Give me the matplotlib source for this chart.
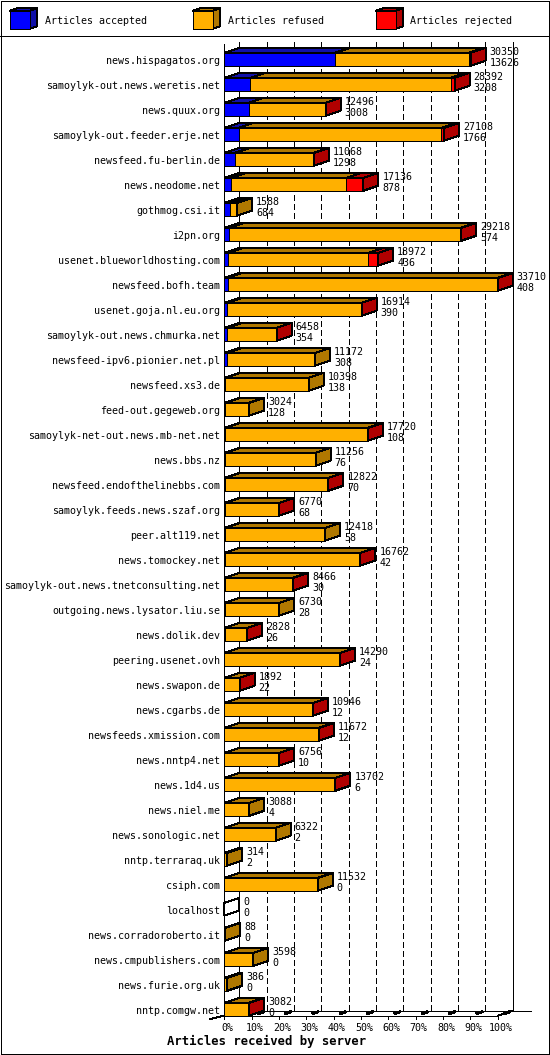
import matplotlib
matplotlib.use("Agg")
import matplotlib.pyplot as plt
from matplotlib.patches import Polygon, Rectangle

plt.rcParams['font.family'] = ['DejaVu Sans Mono']
plt.rcParams['lines.scale_dashes'] = False

# data
servers = [
    "news.hispagatos.org", "samoylyk-out.news.weretis.net", "news.quux.org",
    "samoylyk-out.feeder.erje.net", "newsfeed.fu-berlin.de", "news.neodome.net",
    "gothmog.csi.it", "i2pn.org", "usenet.blueworldhosting.com", "newsfeed.bofh.team",
    "usenet.goja.nl.eu.org", "samoylyk-out.news.chmurka.net", "newsfeed-ipv6.pionier.net.pl",
    "newsfeed.xs3.de", "feed-out.gegeweb.org", "samoylyk-net-out.news.mb-net.net",
    "news.bbs.nz", "newsfeed.endofthelinebbs.com", "samoylyk.feeds.news.szaf.org",
    "peer.alt119.net", "news.tomockey.net", "samoylyk-out.news.tnetconsulting.net",
    "outgoing.news.lysator.liu.se", "news.dolik.dev", "peering.usenet.ovh",
    "news.swapon.de", "news.cgarbs.de", "newsfeeds.xmission.com", "news.nntp4.net",
    "news.1d4.us", "news.niel.me", "news.sonologic.net", "nntp.terraraq.uk",
    "csiph.com", "localhost", "news.corradoroberto.it", "news.cmpublishers.com",
    "news.furie.org.uk", "nntp.comgw.net",
]
received = [30350, 28392, 12496, 27108, 11068, 17136, 1588, 29218, 18972, 33710,
            16914, 6458, 11172, 10398, 3024, 17720, 11256, 12822, 6770, 12418,
            16762, 8466, 6730, 2828, 14290, 1892, 10946, 11672, 6756, 13702,
            3088, 6322, 314, 11532, 0, 88, 3598, 386, 3082]
accepted = [13626, 3208, 3008, 1766, 1298, 878, 684, 574, 436, 408,
            390, 354, 308, 138, 128, 108, 76, 70, 68, 58,
            42, 30, 28, 26, 24, 22, 12, 12, 10, 6,
            4, 2, 2, 0, 0, 0, 0, 0, 0]
rejected = [250, 500, 60, 400, 50, 2100, 0, 100, 1230, 80,
            60, 30, 0, 0, 0, 50, 0, 40, 20, 0,
            30, 20, 0, 10, 20, 10, 20, 20, 10, 20,
            0, 0, 0, 0, 0, 0, 0, 0, 100]
refused = [t - a - r for t, a, r in zip(received, accepted, rejected)]

legend_labels = ["Articles accepted", "Articles refused", "Articles rejected"]
tick_labels = ["%d%%" % p for p in range(0, 101, 10)]
xlabel = "Articles received by server"

front_col = ['#0000ff', '#ffb000', '#ff0000']
dark_col = ['#1010a8', '#b07800', '#b00000']

W, H = 550, 1055
X0 = 224.3       # px of zero
XLEN = 273.5     # px of the max value
ROW0 = 59.3      # px centre of first row
ROWH = 25.0
MAXV = max(received)
KX = MAXV / XLEN
DX = 15 * KX
DY = 5 / ROWH
HALF = 6.4 / ROWH
LW = 0.72
FS = 7.2

fig = plt.figure(figsize=(W / 100, H / 100), dpi=100)
ax = fig.add_axes([0, 0, 1, 1])
ax.set_xlim(-X0 * KX, (W - X0) * KX)
ax.set_ylim((H - ROW0) / ROWH, -ROW0 / ROWH)
ax.axis('off')

n = len(servers)
top_y = (42 - ROW0) / ROWH
floor_f = (n - 1) + HALF
floor_b = floor_f - DY

lk = dict(color='black', lw=LW, antialiased=False)
# walls / grid
for t in range(1, 10):
    xx = MAXV * t / 10 + DX
    ax.plot([xx, xx], [top_y, floor_b], ls=(0, (3.6, 2.2)), zorder=1, **lk)
ax.plot([DX, DX], [top_y, floor_b], zorder=1, **lk)
ax.plot([MAXV + DX, MAXV + DX], [top_y, floor_b], zorder=1, **lk)
ax.plot([DX, MAXV + DX + 18 * KX], [floor_b, floor_b], zorder=1, **lk)
ax.plot([0, MAXV], [floor_f, floor_f], zorder=5, **lk)
ax.plot([MAXV, MAXV + DX], [floor_f, floor_b], zorder=1, **lk)
ax.plot([-14 * KX, 0], [floor_f + 3.3 / ROWH, floor_f], zorder=5, **lk)
ax.plot([0, 0], [top_y + 2 / ROWH, floor_f], zorder=5, **lk)
for t in range(11):
    xx = MAXV * t / 10
    ax.plot([xx, xx], [floor_f, floor_f + 3 / ROWH], zorder=5, **lk)
    if t > 0:
        ax.plot([xx + DX * 0.45, xx + DX * 0.75],
                [floor_f - DY * 0.45, floor_f - DY * 0.75], zorder=5,
                color='black', lw=1.5, antialiased=False)
    ax.text(xx + 3 * KX, floor_f + 15.3 / ROWH, tick_labels[t], ha='center',
            va='baseline', fontsize=FS)


def draw_bar(i, vals):
    y0, y1 = i - HALF, i + HALF
    x = 0
    last = None
    for j, v in enumerate(vals):
        if v <= 0:
            continue
        top = Polygon([(x, y0), (x + v, y0), (x + v + DX, y0 - DY), (x + DX, y0 - DY)],
                      closed=True, fc=dark_col[j], ec='black', lw=LW,
                      antialiased=False, zorder=3)
        ax.add_patch(top)
        ax.add_patch(Rectangle((x, y0), v, y1 - y0, fc=front_col[j], ec='black',
                               lw=LW, antialiased=False, zorder=4))
        x += v
        last = j
    side_c = dark_col[last] if last is not None else 'white'
    ax.add_patch(Polygon([(x, y0), (x + DX, y0 - DY), (x + DX, y1 - DY), (x, y1)],
                         closed=True, fc=side_c, ec='black', lw=LW,
                         antialiased=False, zorder=4))
    return x


for i in range(n):
    end = draw_bar(i, [accepted[i], refused[i], rejected[i]])
    ax.text(-4 * KX, i + 0.18, servers[i], ha='right', va='baseline', fontsize=FS)
    tx = end + DX + 4 * KX
    ax.text(tx, i - 0.17, str(received[i]), ha='left', va='baseline', fontsize=FS)
    ax.text(tx, i + 0.27, str(accepted[i]), ha='left', va='baseline', fontsize=FS)

ax.text(MAXV * 0.155, floor_f + 29.5 / ROWH, xlabel, ha='center', va='baseline',
        fontsize=8.8, fontweight='bold')

# legend + frame, in pixel units
lg = fig.add_axes([0, 0, 1, 1], facecolor='none')
lg.set_xlim(0, W)
lg.set_ylim(H, 0)
lg.axis('off')
lg.plot([0, W], [35.5, 35.5], color='black', lw=LW, antialiased=False)
lg.add_patch(Rectangle((0.5, 0.5), W - 1.2, H - 1.2, fill=False, ec='black',
                       lw=LW, antialiased=False))
for j, (lx, tx) in enumerate([(10, 45), (193, 228), (376, 410)]):
    fx0, fx1, fy0, fy1 = lx, lx + 20, 10.7, 28.7
    lg.add_patch(Polygon([(fx0, fy0), (fx1, fy0), (fx1 + 7, fy0 - 2.5), (fx0 + 7, fy0 - 2.5)],
                         closed=True, fc=dark_col[j], ec='black', lw=LW, antialiased=False))
    lg.add_patch(Polygon([(fx1, fy0), (fx1 + 7, fy0 - 2.5), (fx1 + 7, fy1 - 2.5), (fx1, fy1)],
                         closed=True, fc=dark_col[j], ec='black', lw=LW, antialiased=False))
    lg.add_patch(Rectangle((fx0, fy0), 20, 18, fc=front_col[j], ec='black', lw=LW,
                           antialiased=False))
    lg.text(tx, 24, legend_labels[j], ha='left', va='baseline', fontsize=FS)

fig.savefig("out.png", dpi=100)
